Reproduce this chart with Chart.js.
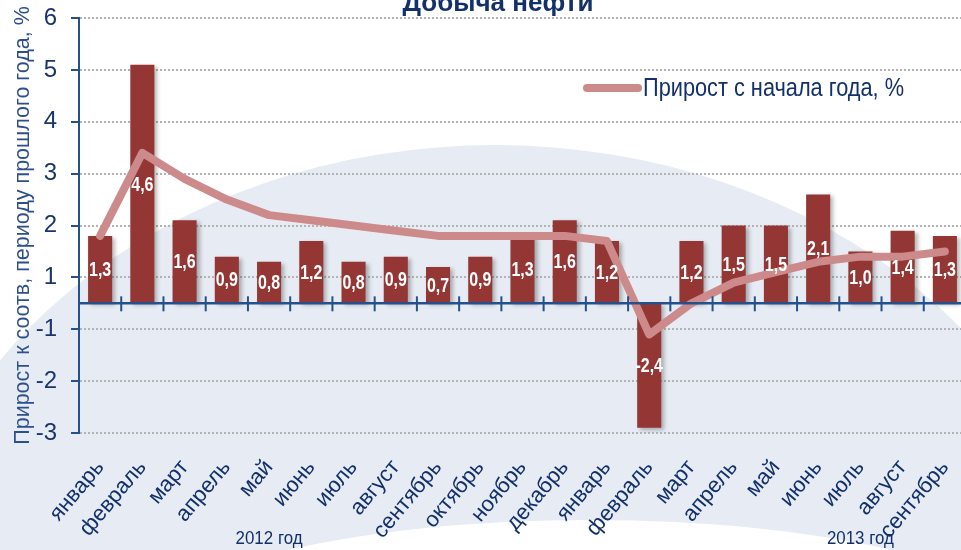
<!DOCTYPE html>
<html>
<head>
<meta charset="utf-8">
<script src="https://cdn.jsdelivr.net/npm/chart.js@4.4.1/dist/chart.umd.min.js"></script>
<style>
  html, body { margin: 0; padding: 0; overflow: hidden; background: #fff; }
  #wrap { width: 966px; height: 550px; }
</style>
</head>
<body>
<div id="wrap"><canvas id="oilChart" width="966" height="550"></canvas></div>
<script>
const months = ['январь', 'февраль', 'март', 'апрель', 'май', 'июнь', 'июль', 'август', 'сентябрь', 'октябрь', 'ноябрь', 'декабрь',
                'январь', 'февраль', 'март', 'апрель', 'май', 'июнь', 'июль', 'август', 'сентябрь'];
const monthlyGrowth = [1.3, 4.6, 1.6, 0.9, 0.8, 1.2, 0.8, 0.9, 0.7, 0.9, 1.3, 1.6, 1.2, -2.4, 1.2, 1.5, 1.5, 2.1, 1.0, 1.4, 1.3];
const ytdGrowth = [1.3, 2.9, 2.4, 2.0, 1.7, 1.6, 1.5, 1.4, 1.3, 1.3, 1.3, 1.3, 1.2, -0.6, 0.0, 0.4, 0.6, 0.8, 0.9, 0.9, 1.0];
// gridlines sit half a unit off zero, the original labels them as whole numbers
const yTickValues = [-2.5, -1.5, -0.5, 0.5, 1.5, 2.5, 3.5, 4.5, 5.5];
const yTickLabels = ['-3', '-2', '-1', '1', '2', '3', '4', '5', '6'];
const yearLabels = [{ text: '2012 год', month: 4 }, { text: '2013 год', month: 18 }];

const navy = '#12306a';
const axisBlue = '#24508e';
const sans = "'Liberation Sans', Arial, sans-serif";

const fmt = v => v.toFixed(1).replace('.', ',');

// no condensed face installed, so squeeze the text horizontally
function narrowText(c, text, x, y, squeeze) {
    c.save();
    c.translate(x, y);
    c.scale(squeeze, 1);
    c.fillText(text, 0, 0);
    c.restore();
}

const backdrop = {
    id: 'backdrop',
    beforeDraw(chart) {
        const c = chart.ctx;
        c.save();
        c.fillStyle = '#ffffff';
        c.fillRect(0, 0, chart.width, chart.height);
        c.fillStyle = '#e7ecf4';
        c.beginPath();
        c.ellipse(495, 640, 600, 495, 0, 0, Math.PI * 2);
        c.fill();
        c.fillStyle = '#ffffff';
        c.beginPath();
        c.ellipse(590, 625, 430, 105, 0, 0, Math.PI * 2);
        c.fill();
        c.restore();
    }
};

const extras = {
    id: 'extras',
    beforeDatasetDraw(chart, args) {
        if (args.index !== 1) return;
        const c = chart.ctx;
        c.save();
        c.shadowColor = 'rgba(0,0,0,0.28)';
        c.shadowBlur = 4;
        c.shadowOffsetX = 3;
        c.shadowOffsetY = 2;
    },
    afterDatasetDraw(chart, args) {
        if (args.index !== 1) return;
        chart.ctx.restore();
    },
    afterDatasetsDraw(chart) {
        const c = chart.ctx;
        const x = chart.scales.x, y = chart.scales.y;
        const area = chart.chartArea;
        const y0 = y.getPixelForValue(0);
        const step = x.getPixelForValue(1) - x.getPixelForValue(0);

        c.save();
        // zero axis with cross ticks between months
        c.strokeStyle = axisBlue;
        c.lineWidth = 2.5;
        c.beginPath();
        c.moveTo(area.left, y0);
        c.lineTo(area.right, y0);
        c.stroke();
        c.lineWidth = 2;
        for (let i = 0; i < months.length; i++) {
            const px = x.getPixelForValue(i) + step / 2;
            c.beginPath();
            c.moveTo(px, y0 - 7);
            c.lineTo(px, y0 + 8);
            c.stroke();
        }

        // values inside bars
        c.fillStyle = '#ffffff';
        c.font = "bold 20px " + sans;
        c.textAlign = 'center';
        c.textBaseline = 'middle';
        chart.getDatasetMeta(1).data.forEach((bar, i) => {
            narrowText(c, fmt(monthlyGrowth[i]), bar.x, (bar.y + bar.base) / 2 + 1, 0.8);
        });

        // legend
        c.strokeStyle = chart.data.datasets[0].borderColor;
        c.lineWidth = 8;
        c.lineCap = 'round';
        c.beginPath();
        c.moveTo(587, 88);
        c.lineTo(638, 88);
        c.stroke();
        c.fillStyle = navy;
        c.font = "25px " + sans;
        c.textAlign = 'left';
        narrowText(c, chart.data.datasets[0].label, 643, 89, 0.87);

        // year captions
        c.font = "19px " + sans;
        c.textAlign = 'center';
        yearLabels.forEach(yl => {
            narrowText(c, yl.text, x.getPixelForValue(yl.month), 539, 0.89);
        });

        // title, cut by the top edge
        c.font = "bold 26px " + sans;
        c.textBaseline = 'alphabetic';
        c.fillText('Добыча нефти', 498, 11);
        c.restore();
    }
};

new Chart(document.getElementById('oilChart'), {
    type: 'bar',
    data: {
        labels: months,
        datasets: [
            {
                type: 'line',
                label: 'Прирост с начала года, %',
                data: ytdGrowth,
                borderColor: '#cd8a8a',
                borderWidth: 8,
                borderJoinStyle: 'round',
                borderCapStyle: 'round',
                pointRadius: 0,
                tension: 0,
                order: 0
            },
            {
                label: 'Прирост к соотв. периоду прошлого года, %',
                data: monthlyGrowth,
                backgroundColor: '#943634',
                categoryPercentage: 1,
                barPercentage: 0.57,
                order: 1
            }
        ]
    },
    options: {
        responsive: false,
        animation: false,
        layout: { padding: { top: 18, left: 0, right: 0, bottom: 0 } },
        plugins: {
            legend: { display: false },
            tooltip: { enabled: false }
        },
        scales: {
            x: {
                grid: { display: false, drawTicks: false },
                border: { display: false },
                ticks: {
                    autoSkip: false,
                    minRotation: 50,
                    maxRotation: 50,
                    padding: 22,
                    color: navy,
                    font: { family: sans, size: 22 }
                },
                afterFit(scale) {
                    scale.height = 117;
                    scale.paddingLeft = 0;
                    scale.paddingRight = 0;
                }
            },
            y: {
                min: -2.5,
                max: 5.5,
                afterBuildTicks(scale) {
                    scale.ticks = yTickValues.map(v => ({ value: v }));
                },
                ticks: {
                    callback: (v, i) => yTickLabels[i],
                    padding: 14,
                    color: '#1a356b',
                    font: { family: sans, size: 24 }
                },
                grid: {
                    color: '#b3b3b3',
                    lineWidth: 2,
                    tickColor: axisBlue,
                    tickLength: 8,
                    tickWidth: 2,
                    tickBorderDash: []
                },
                border: { color: axisBlue, width: 2, dash: [2, 2] },
                title: {
                    display: true,
                    text: 'Прирост к соотв, периоду прошлого года, %',
                    color: '#2d4f8c',
                    font: { family: sans, size: 21.5 },
                    padding: { top: 10, bottom: 0 }
                },
                afterFit(scale) {
                    scale.width = 79;
                    scale.paddingTop = 0;
                    scale.paddingBottom = 0;
                }
            }
        }
    },
    plugins: [backdrop, extras]
});
</script>
</body>
</html>
